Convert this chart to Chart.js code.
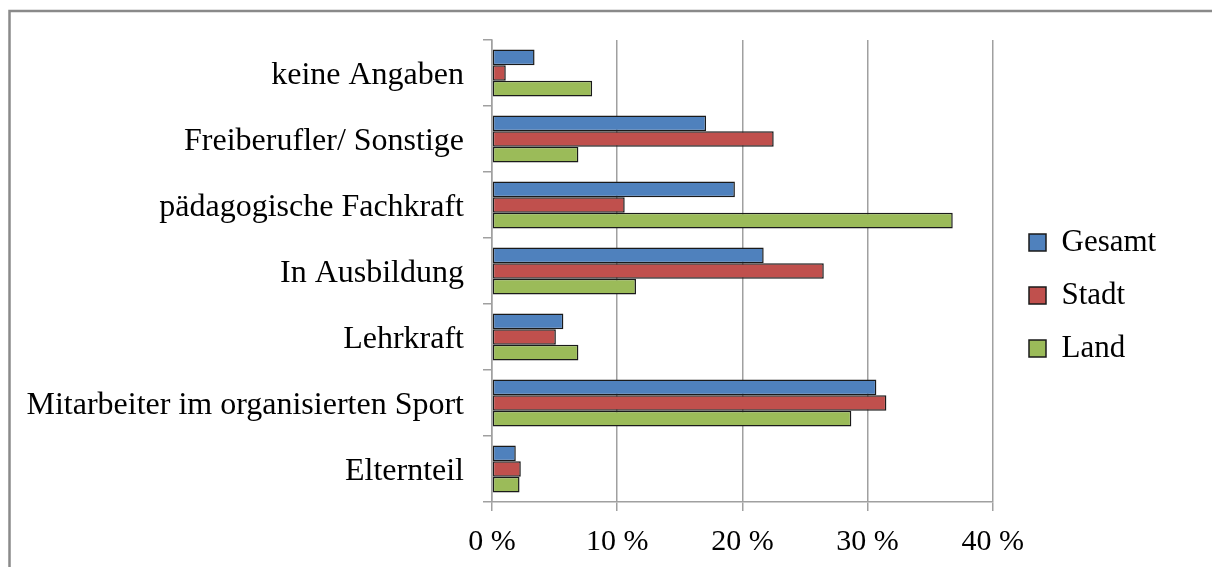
<!DOCTYPE html>
<html>
<head>
<meta charset="utf-8">
<script src="https://cdn.jsdelivr.net/npm/chart.js@4.4.1/dist/chart.umd.min.js"></script>
<style>
  html, body { margin: 0; padding: 0; background: #ffffff; }
  #wrap { position: relative; width: 1212px; height: 567px; }
</style>
</head>
<body>
<div id="wrap"><canvas id="c" width="1212" height="567"></canvas></div>
<script>
const categories = ['keine Angaben', 'Freiberufler/ Sonstige', 'pädagogische Fachkraft', 'In Ausbildung', 'Lehrkraft', 'Mitarbeiter im organisierten Sport', 'Elternteil'];
const seriesNames = ['Gesamt', 'Stadt', 'Land'];
const gesamt = [3.4, 17.1, 19.4, 21.7, 5.7, 30.7, 1.9];
const stadt  = [1.1, 22.5, 10.6, 26.5, 5.1, 31.5, 2.3];
const land   = [8.0, 6.9, 36.8, 11.5, 6.9, 28.7, 2.2];
const xTicks = [0, 10, 20, 30, 40];

const FONT = "'Liberation Serif', 'Times New Roman', serif";
const GRID = '#a0a0a0';

const framePlugin = {
  id: 'frame',
  beforeDraw(chart) {
    const ctx = chart.ctx;
    ctx.save();
    ctx.fillStyle = '#ffffff';
    ctx.fillRect(0, 0, chart.width, chart.height);
    ctx.strokeStyle = '#8a8a8a';
    ctx.lineWidth = 2.5;
    ctx.strokeRect(9.5, 11, 1400, 800);
    ctx.restore();
  }
};

const legendShift = {
  id: 'legendShift',
  afterLayout(chart) {
    const leg = chart.legend;
    if (!leg) return;
    const dx = 1007 - leg.left;
    leg.left += dx; leg.right += dx;
    leg.top -= 8; leg.bottom -= 8;
  }
};

new Chart(document.getElementById('c'), {
  type: 'bar',
  data: {
    labels: categories,
    datasets: [
      { label: seriesNames[0], data: gesamt, backgroundColor: '#4f81bd' },
      { label: seriesNames[1], data: stadt,  backgroundColor: '#c0504d' },
      { label: seriesNames[2], data: land,   backgroundColor: '#9bbb59' }
    ]
  },
  options: {
    indexAxis: 'y',
    responsive: false,
    animation: false,
    devicePixelRatio: 1,
    layout: { padding: { top: 40, right: 60, bottom: 0, left: 0 } },
    datasets: {
      bar: {
        categoryPercentage: 0.71,
        barPercentage: 1.0,
        borderColor: '#1a1a1a',
        borderWidth: 1.5,
        borderSkipped: false
      }
    },
    scales: {
      x: {
        min: 0, max: 40,
        afterBuildTicks(scale) { scale.ticks = xTicks.map(v => ({ value: v })); },
        afterFit(scale) { scale.height = 65; },
        grid: { color: GRID, lineWidth: 1.5, drawTicks: true, tickLength: 9, tickColor: GRID },
        border: { display: true, color: GRID, width: 1.5 },
        ticks: {
          font: { family: FONT, size: 30 },
          color: '#000000',
          padding: 13,
          callback: v => v + ' %'
        }
      },
      y: {
        afterFit(scale) { scale.width = 492; },
        grid: { drawOnChartArea: false, drawTicks: true, tickLength: 9, color: GRID, lineWidth: 1.5 },
        border: { display: true, color: GRID, width: 1.5 },
        ticks: {
          font: { family: FONT, size: 32 },
          color: '#000000',
          padding: 19,
          labelOffset: 3
        }
      }
    },
    plugins: {
      legend: {
        position: 'right',
        labels: {
          font: { family: FONT, size: 31 },
          color: '#000000',
          boxWidth: 17,
          boxHeight: 17,
          padding: 22
        }
      },
      tooltip: { enabled: false }
    }
  },
  plugins: [framePlugin, legendShift]
});
</script>
</body>
</html>
